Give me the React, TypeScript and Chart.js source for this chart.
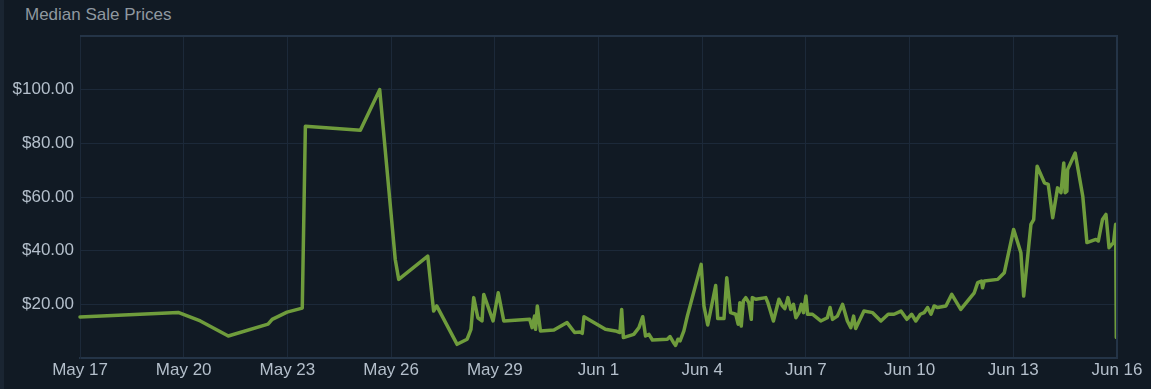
import React, { useEffect, useRef } from "react";
import { Chart, registerables } from "chart.js";

Chart.register(...registerables);

// Days since May 17 for each sale point
const saleDays: number[] = [
  0.0, 2.84, 3.48, 4.29, 5.44, 5.56, 5.99, 6.43, 6.52, 8.11, 8.67, 9.12, 9.22, 10.06, 10.23, 10.32,
  10.91, 11.2, 11.31, 11.39, 11.51, 11.63, 11.68, 11.95, 12.1, 12.26, 13.01, 13.08, 13.15, 13.18,
  13.23, 13.32, 13.71, 14.09, 14.31, 14.46, 14.53, 14.58, 15.2, 15.49, 15.62, 15.67, 15.72, 16.02,
  16.17, 16.28, 16.36, 16.46, 16.56, 16.99, 17.07, 17.16, 17.23, 17.3, 17.36, 17.47, 17.57, 17.97,
  18.05, 18.16, 18.39, 18.45, 18.63, 18.71, 18.82, 18.97, 19.04, 19.09, 19.13, 19.19, 19.26, 19.35,
  19.42, 19.45, 19.55, 19.84, 19.9, 20.06, 20.22, 20.32, 20.39, 20.48, 20.56, 20.64, 20.71, 20.8,
  20.87, 20.93, 21.0, 21.05, 21.19, 21.43, 21.62, 21.7, 21.77, 21.91, 22.06, 22.2, 22.3, 22.38,
  22.44, 22.68, 22.93, 23.17, 23.38, 23.55, 23.75, 23.92, 24.06, 24.18, 24.31, 24.42, 24.52, 24.62,
  24.71, 24.81, 25.05, 25.22, 25.48, 25.87, 25.97, 26.08, 26.11, 26.16, 26.55, 26.74, 27.01, 27.22,
  27.3, 27.51, 27.59, 27.69, 27.9, 28.01, 28.14, 28.28, 28.38, 28.46, 28.5, 28.55, 28.57, 28.79,
  29.01, 29.13, 29.39, 29.46, 29.58, 29.68, 29.77, 29.9, 29.96, 29.98,
];

// Median sale price (USD) for each point
const salePrices: number[] = [
  15.3, 17.0, 13.8, 8.2, 12.6, 14.4, 17.1, 18.6, 86.4, 84.9, 100.0, 36.7, 29.3, 38.0, 17.5, 19.4,
  5.1, 7.0, 10.7, 22.5, 15.0, 13.8, 23.7, 13.8, 24.3, 13.8, 14.4, 11.3, 15.6, 10.7,
  19.4, 10.1, 10.4, 13.2, 9.5, 9.7, 9.2, 15.4, 10.7, 10.1, 9.5, 18.1, 7.6, 8.8,
  11.3, 15.4, 8.2, 8.8, 6.7, 7.0, 8.0, 6.0, 4.7, 7.0, 6.4, 10.1, 15.6, 34.9,
  19.4, 12.3, 27.0, 14.7, 14.7, 29.9, 16.9, 16.3, 12.6, 20.6, 11.9, 21.2, 22.5, 20.6,
  14.4, 22.5, 21.9, 22.5, 20.6, 13.8, 21.9, 19.4, 18.4, 22.5, 18.1, 20.0, 15.0, 16.9,
  20.0, 16.9, 23.1, 16.3, 16.3, 13.8, 15.0, 18.8, 14.4, 15.6, 20.0, 13.8, 11.3, 15.6,
  11.0, 17.5, 16.9, 13.8, 16.3, 16.3, 17.5, 14.4, 16.3, 13.8, 16.3, 16.9, 18.8, 16.3,
  19.4, 18.8, 19.4, 23.7, 18.1, 24.3, 28.1, 28.7, 26.2, 28.7, 29.3, 31.8, 47.9, 39.2,
  23.1, 49.8, 51.6, 71.5, 65.3, 64.7, 52.3, 63.4, 61.6, 72.7, 61.6, 62.2, 70.2, 76.4,
  60.3, 43.0, 44.2, 43.6, 51.6, 53.5, 41.1, 43.0, 49.8, 7.6,
];

// Tick labels every 3 days starting May 17
const xTickLabels: string[] = [
  "May 17", "May 20", "May 23", "May 26", "May 29", "Jun 1",
  "Jun 4", "Jun 7", "Jun 10", "Jun 13", "Jun 16",
];

const yTickLabels: string[] = ["", "$20.00", "$40.00", "$60.00", "$80.00", "$100.00", ""];

const FONT = "'Liberation Sans', Arial, sans-serif";

export default function App() {
  const canvasRef = useRef<HTMLCanvasElement | null>(null);

  useEffect(() => {
    document.body.style.margin = "0";
    document.body.style.background = "#111a24";
    const ctx = canvasRef.current;
    if (!ctx) return;
    const chart = new Chart(ctx, {
      type: "line",
      data: {
        datasets: [
          {
            data: saleDays.map((d, i) => ({ x: d, y: salePrices[i] })),
            borderColor: "#6f9c3c",
            borderWidth: 3.5,
            pointRadius: 0,
            tension: 0,
            fill: false,
            clip: 4,
            borderJoinStyle: "round",
            borderCapStyle: "round",
          },
        ],
      },
      options: {
        animation: false,
        responsive: false,
        maintainAspectRatio: false,
        layout: { padding: { top: 36, right: 34, left: 0, bottom: 0 } },
        plugins: {
          legend: { display: false },
          title: { display: false },
          tooltip: { enabled: false },
        },
        scales: {
          x: {
            type: "linear",
            min: 0,
            max: 30,
            afterFit: (s: any) => {
              s.height = 31;
            },
            afterBuildTicks: (s: any) => {
              s.ticks = xTickLabels.map((_, i) => ({ value: i * 3 }));
            },
            ticks: {
              color: "#b4bfcb",
              font: { family: FONT, size: 17 },
              padding: 2,
              maxRotation: 0,
              autoSkip: false,
              callback: (v: any) => xTickLabels[Math.round(Number(v) / 3)] ?? "",
            },
            grid: { color: "#1c2939", lineWidth: 1, drawTicks: false },
            border: { color: "#243447", width: 2 },
          },
          y: {
            min: 0,
            max: 120,
            afterFit: (s: any) => {
              s.width = 80;
            },
            afterBuildTicks: (s: any) => {
              s.ticks = yTickLabels.map((_, i) => ({ value: i * 20 }));
            },
            ticks: {
              color: "#b4bfcb",
              font: { family: FONT, size: 17 },
              padding: 6,
              callback: (v: any) => yTickLabels[Math.round(Number(v) / 20)] ?? "",
            },
            grid: { color: "#1c2939", lineWidth: 1, drawTicks: false },
            border: { color: "#1c2939", width: 1 },
          },
        },
      },
      plugins: [
        {
          id: "frame",
          afterDraw: (c: any) => {
            const a = c.chartArea;
            const g = c.ctx;
            g.save();
            g.strokeStyle = "#243447";
            g.lineWidth = 2;
            g.beginPath();
            g.moveTo(a.left, a.top);
            g.lineTo(a.right, a.top);
            g.lineTo(a.right, a.bottom);
            g.stroke();
            g.restore();
          },
        },
      ],
    } as any);
    return () => chart.destroy();
  }, []);

  return (
    <div style={{ position: "relative", width: 1151, height: 389, background: "#111a24" }}>
      <div
        style={{
          position: "absolute",
          left: 0,
          top: 0,
          width: 4,
          height: 389,
          background: "#1a2532",
        }}
      />
      <div
        style={{
          position: "absolute",
          left: 25,
          top: 5,
          fontFamily: FONT,
          fontSize: 17,
          color: "#8f98a0",
          lineHeight: "20px",
        }}
      >
        Median Sale Prices
      </div>
      <canvas
        ref={canvasRef}
        width={1151}
        height={389}
        style={{ position: "absolute", left: 0, top: 0, width: 1151, height: 389 }}
      />
    </div>
  );
}
